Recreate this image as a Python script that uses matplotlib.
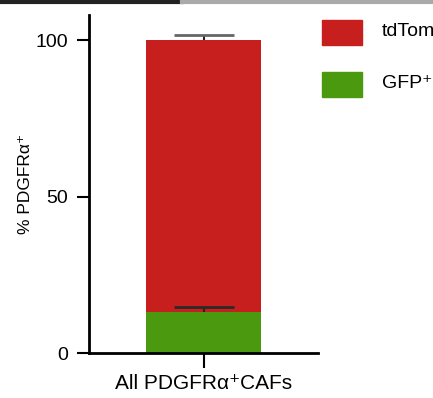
import matplotlib
matplotlib.use("Agg")
import matplotlib.pyplot as plt

# data
category = ["All PDGFRα⁺CAFs"]
gfp = [13.0]
gfp_err = [1.6]
tdtom = [87.0]
tdtom_err = [1.8]
legend_labels = ["tdTomato⁺", "GFP⁺"]
colors = ["#c71f1d", "#4b990e"]

plt.rcParams['font.family'] = ['Liberation Sans', 'DejaVu Sans']

fig = plt.figure(figsize=(4.33, 3.98), dpi=100)
ax = fig.add_axes([0.2055, 0.113, 0.53, 0.849])

x = [0]
ax.bar(x, gfp, width=0.5, color=colors[1], zorder=2)
ax.bar(x, tdtom, bottom=gfp, width=0.5, color=colors[0], zorder=2)

# upper-only error bars with a single cap
top = [gfp[0] + tdtom[0]]
for base, err, ec in [(gfp, gfp_err, '#2a2a2a'), (top, tdtom_err, '#666666')]:
    ax.vlines(x, base, [b + e for b, e in zip(base, err)], color='#222222',
              lw=1.5, zorder=3)
    ax.hlines([b + e for b, e in zip(base, err)], [v - 0.13 for v in x],
              [v + 0.13 for v in x], color=ec, lw=2, zorder=3)

ax.set_xlim(-0.5, 0.5)
ax.set_ylim(0, 108)
ax.set_yticks([0, 50, 100])
ax.set_xticks(x)
ax.set_xticklabels(category, fontsize=15)
ax.set_ylabel("% PDGFRα⁺", fontsize=12.5, labelpad=2)
ax.tick_params(axis='y', labelsize=14, width=1.5, length=9, pad=6)
ax.tick_params(axis='x', width=1.5, length=11, pad=4)
for s in ['top', 'right']:
    ax.spines[s].set_visible(False)
for s in ['left', 'bottom']:
    ax.spines[s].set_linewidth(2)

# legend, cut by the right edge like the source image
for i, (lab, c) in enumerate(zip(legend_labels, colors)):
    yb = 0.887 - i * 0.131
    fig.patches.append(plt.Rectangle((0.744, yb), 0.092, 0.063,
                                     transform=fig.transFigure, color=c))
    fig.text(0.882, yb + 0.034, lab, fontsize=14, va='center', ha='left')

# cropped border line at the very top
fig.add_artist(plt.Line2D([0, 0.42], [0.996, 0.996], color='#222222', lw=3,
                          transform=fig.transFigure))
fig.add_artist(plt.Line2D([0.42, 1], [0.996, 0.996], color='#aaaaaa', lw=3,
                          transform=fig.transFigure))

fig.savefig("out.png", dpi=100)
